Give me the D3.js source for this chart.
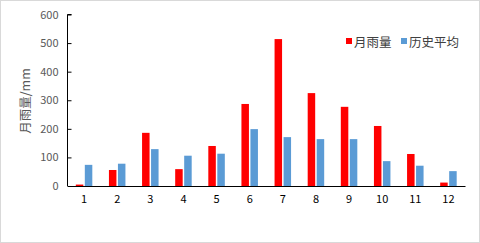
<!DOCTYPE html>
<html>
<head>
<meta charset="utf-8">
<script src="https://cdn.jsdelivr.net/npm/d3@7"></script>
<style>
  body { margin: 0; background: #fff; }
  text { font-family: "Noto Sans CJK SC", "DejaVu Sans", sans-serif; }
</style>
</head>
<body>
<div id="chart"></div>
<script>
var months = ["1", "2", "3", "4", "5", "6", "7", "8", "9", "10", "11", "12"];
var rainfall = [5, 56, 186, 59, 140, 287, 514, 325, 277, 210, 112, 12];
var histAvg = [74, 78, 129, 106, 113, 199, 171, 164, 164, 87, 71, 52];
var yTicks = [0, 100, 200, 300, 400, 500, 600];
var seriesNames = ["月雨量", "历史平均"];
var colors = ["#ff0000", "#5b9bd5"];

var W = 480, H = 243;
var margin = {top: 14.5, right: 15, bottom: 57, left: 67.5};
var width = W - margin.left - margin.right,
    height = H - margin.top - margin.bottom;

var svg = d3.select("#chart").append("svg")
    .attr("width", W)
    .attr("height", H);

// outer border
svg.append("rect")
    .attr("x", 0.5).attr("y", 0.5)
    .attr("width", W - 1).attr("height", H - 1)
    .style("fill", "#fff")
    .style("stroke", "#d9d9d9");

var g = svg.append("g")
    .attr("transform", "translate(" + margin.left + "," + margin.top + ")");

var x = d3.scaleBand().domain(months).range([0, width]);
var y = d3.scaleLinear().domain([0, 600]).range([height, 0]);

var barW = 7.5, gap = 1.5;

// bars
[rainfall, histAvg].forEach(function (vals, si) {
    g.selectAll(".bar" + si)
        .data(vals)
      .enter().append("rect")
        .attr("class", "bar" + si)
        .attr("x", function (d, i) {
            var c = x(months[i]) + x.bandwidth() / 2;
            return si === 0 ? c - gap / 2 - barW : c + gap / 2;
        })
        .attr("y", function (d) { return y(d); })
        .attr("width", barW)
        .attr("height", function (d) { return height - y(d); })
        .style("fill", colors[si]);
});

// y axis
var yAxis = g.append("g")
    .call(d3.axisRight(y).tickValues(yTicks).tickSize(4));
yAxis.select(".domain").attr("d", "M4,0H0V" + height).style("stroke", "#000");
yAxis.selectAll(".tick line").style("stroke", "#000");
yAxis.selectAll(".tick text")
    .attr("text-anchor", "end")
    .attr("x", -9)
    .style("font-size", "11px")
    .style("fill", "#595959");

// x axis
var xAxis = g.append("g")
    .attr("transform", "translate(0," + height + ")")
    .call(d3.axisBottom(x).tickSize(0).tickPadding(9));
xAxis.select(".domain").style("stroke", "#000").style("stroke-width", 1.2);
xAxis.selectAll(".tick text")
    .style("font-size", "11px")
    .style("fill", "#000");

// y title
svg.append("text")
    .attr("transform", "translate(30,101) rotate(-90)")
    .attr("text-anchor", "middle")
    .style("font-size", "12.5px")
    .style("fill", "#595959")
    .text("月雨量/mm");

// legend
var legendX = [346, 401];
seriesNames.forEach(function (name, i) {
    svg.append("rect")
        .attr("x", legendX[i]).attr("y", 38)
        .attr("width", 6).attr("height", 6)
        .style("fill", colors[i]);
    svg.append("text")
        .attr("x", legendX[i] + 8).attr("y", 46.5)
        .style("font-size", "12.5px")
        .style("fill", "#404040")
        .text(name);
});
</script>
</body>
</html>
